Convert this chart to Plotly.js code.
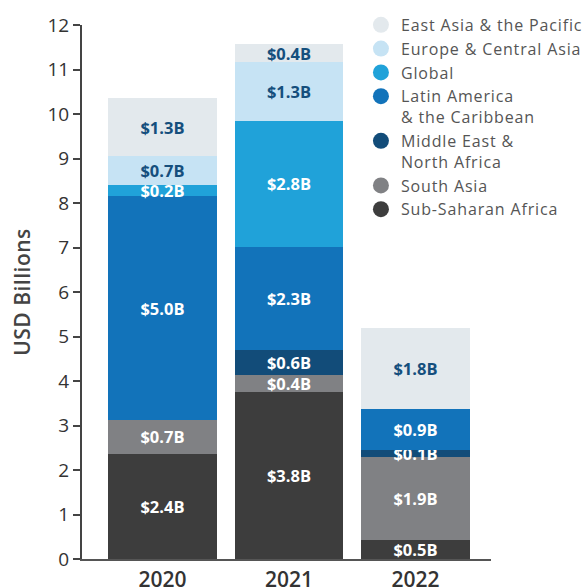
<!DOCTYPE html>
<html>
<head>
<meta charset="utf-8">
<script src="https://cdn.plot.ly/plotly-3.0.1.min.js"></script>
<style>
html,body{margin:0;padding:0;background:#fff;}
#chart{width:587px;height:588px;}
.legendtext{letter-spacing:0.85px;}
.ytitle{letter-spacing:0.5px;}
</style>
</head>
<body>
<div id="chart"></div>
<script>
const years = ['2020', '2021', '2022'];

// Stacked values (USD billions), bottom to top
const subSaharanAfrica = [2.37, 3.75, 0.42];
const southAsia = [0.75, 0.38, 1.88];
const middleEastNorthAfrica = [0, 0.57, 0.14];
const latinAmerica = [5.04, 2.31, 0.92];
const global = [0.24, 2.84, 0];
const europeCentralAsia = [0.66, 1.32, 0];
const eastAsiaPacific = [1.29, 0.40, 1.82];

// Segment labels as printed on the chart
const subSaharanAfricaLabels = ['$2.4B', '$3.8B', '$0.5B'];
const southAsiaLabels = ['$0.7B', '$0.4B', '$1.9B'];
const middleEastNorthAfricaLabels = ['', '$0.6B', '$0.1B'];
const latinAmericaLabels = ['$5.0B', '$2.3B', '$0.9B'];
const globalLabels = ['$0.2B', '$2.8B', ''];
const europeCentralAsiaLabels = ['$0.7B', '$1.3B', ''];
const eastAsiaPacificLabels = ['$1.3B', '$0.4B', '$1.8B'];

const seriesNames = ['Sub-Saharan Africa', 'South Asia', 'Middle East &<br>North Africa',
  'Latin America<br>& the Caribbean', 'Global', 'Europe & Central Asia', 'East Asia & the Pacific'];

const series = [
  {name: seriesNames[0], v: subSaharanAfrica, l: subSaharanAfricaLabels, c: '#3d3d3d', tc: '#ffffff'},
  {name: seriesNames[1], v: southAsia, l: southAsiaLabels, c: '#808184', tc: '#ffffff'},
  {name: seriesNames[2], v: middleEastNorthAfrica, l: middleEastNorthAfricaLabels, c: '#124c79', tc: '#ffffff'},
  {name: seriesNames[3], v: latinAmerica, l: latinAmericaLabels, c: '#1273ba', tc: '#ffffff'},
  {name: seriesNames[4], v: global, l: globalLabels, c: '#20a2d9', tc: '#ffffff'},
  {name: seriesNames[5], v: europeCentralAsia, l: europeCentralAsiaLabels, c: '#c6e3f4', tc: '#154f7d'},
  {name: seriesNames[6], v: eastAsiaPacific, l: eastAsiaPacificLabels, c: '#e3e9ed', tc: '#154f7d'}
];

const FONT = 'Open Sans, sans-serif';
const traces = [];

series.forEach(s => {
  traces.push({
    type: 'bar', x: years, y: s.v, name: s.name, showlegend: false,
    marker: {color: s.c, line: {width: 0}}, width: 0.86, hoverinfo: 'skip',
    text: s.l, textposition: 'inside', insidetextanchor: 'middle',
    textangle: 0, constraintext: 'none', cliponaxis: false,
    textfont: {family: FONT, size: 16.5, color: s.tc, weight: 'bold'}
  });
});

// Legend entries (circle markers), top to bottom
series.slice().reverse().forEach(s => {
  traces.push({
    type: 'scatter', mode: 'markers', x: [null], y: [null], name: s.name,
    marker: {color: s.c, size: 16, symbol: 'circle'}, showlegend: true, hoverinfo: 'skip'
  });
});

const layout = {
  width: 587, height: 588,
  margin: {l: 82, r: 96, t: 25, b: 29, autoexpand: false},
  paper_bgcolor: '#ffffff', plot_bgcolor: '#ffffff',
  barmode: 'stack',
  font: {family: FONT, color: '#333'},
  xaxis: {
    type: 'category', categoryorder: 'array', categoryarray: years,
    range: [-0.636, 2.597], showline: true, linecolor: '#555', linewidth: 2,
    ticks: 'outside', ticklen: 1, tickcolor: 'rgba(0,0,0,0)',
    tickfont: {family: FONT, size: 21, color: '#333', weight: 600},
    showgrid: false, zeroline: false, fixedrange: true
  },
  yaxis: {
    range: [0, 12], dtick: 1, showline: true, linecolor: '#444', linewidth: 2,
    ticks: 'outside', ticklen: 7, tickwidth: 2, tickcolor: '#444',
    tickfont: {family: FONT, size: 19, color: '#333'},
    showgrid: false, zeroline: false, fixedrange: true,
    title: {text: 'USD Billions', font: {family: FONT, size: 21, color: '#444', weight: 600}, standoff: 11}
  },
  legend: {
    x: 0.682, xanchor: 'left', y: 1.032, yanchor: 'top',
    bgcolor: 'rgba(0,0,0,0)', valign: 'top', tracegroupgap: 0,
    font: {family: FONT, size: 16, color: '#555'}, traceorder: 'normal'
  },
  showlegend: true
};

Plotly.newPlot('chart', traces, layout, {displayModeBar: false, staticPlot: true});
</script>
</body>
</html>
